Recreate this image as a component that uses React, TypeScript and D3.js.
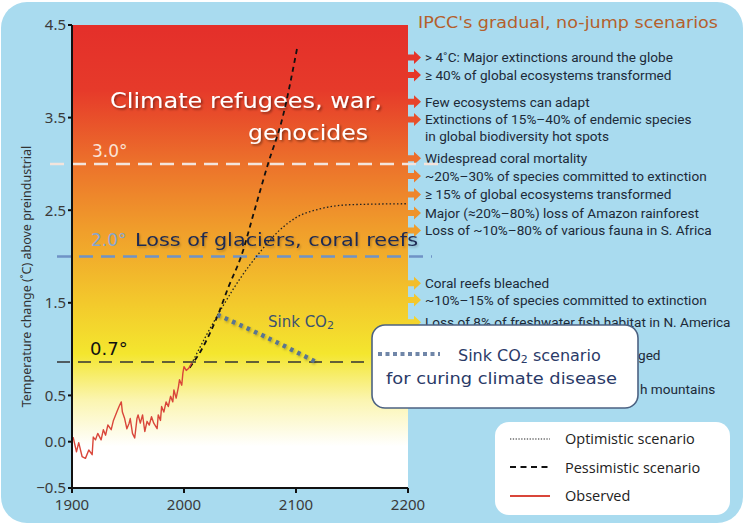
import * as d3 from "d3";

// observed temperature anomaly
const obsYear = [1901, 1904, 1906, 1909, 1912, 1915, 1918, 1919, 1921, 1923, 1926, 1928, 1930, 1932, 1935, 1937, 1940, 1942, 1944, 1945, 1947, 1949, 1951, 1952, 1954, 1956, 1958, 1959, 1961, 1963, 1965, 1967, 1969, 1971, 1973, 1976, 1977, 1979, 1980, 1982, 1984, 1986, 1988, 1990, 1991, 1993, 1995, 1996, 1998, 1999, 2000, 2002, 2004, 2007];
const obsTemp = [0.05, -0.11, -0.01, -0.16, -0.18, -0.09, -0.14, 0.05, 0.02, 0.09, 0.02, 0.13, 0.07, 0.18, 0.13, 0.23, 0.32, 0.38, 0.43, 0.32, 0.25, 0.14, 0.2, 0.25, 0.09, 0.04, 0.25, 0.29, 0.2, 0.29, 0.11, 0.22, 0.18, 0.27, 0.2, 0.14, 0.29, 0.23, 0.38, 0.32, 0.43, 0.38, 0.49, 0.43, 0.56, 0.47, 0.59, 0.67, 0.61, 0.74, 0.81, 0.77, 0.79, 0.85];

const pesYear = [2005, 2015, 2030, 2040, 2051, 2063, 2075, 2088, 2101];
const pesTemp = [0.8, 0.98, 1.36, 1.68, 2.0, 2.5, 3.0, 3.5, 4.25];

const optYear = [2005, 2020, 2035, 2050, 2068, 2085, 2100, 2120, 2150, 2200];
const optTemp = [0.8, 1.15, 1.47, 1.76, 2.05, 2.28, 2.42, 2.51, 2.56, 2.57];

const sinkYear = [2030, 2075, 2118];
const sinkTemp = [1.37, 1.12, 0.86];

const yTicks = [4.5, 3.5, 2.5, 1.5, 0.5, 0.0, -0.5];
const yTickLabels = ["4.5", "3.5", "2.5", "1.5", "0.5", "0.0", "\u22120.5"];
const xTicks = [1900, 2000, 2100, 2200];

const impactTemp = [4.15, 3.96, 3.67, 3.48, 3.06, 2.87, 2.67, 2.47, 2.28, 1.71, 1.53];
const impactText = [
  "> 4\u02DAC: Major extinctions around the globe",
  "\u2265 40% of global ecosystems transformed",
  "Few ecosystems can adapt",
  "Extinctions of 15%\u201340% of endemic species",
  "Widespread coral mortality",
  "~20%\u201330% of species committed to extinction",
  "\u2265 15% of global ecosystems transformed",
  "Major (\u224820%\u201380%) loss of Amazon rainforest",
  "Loss of ~10%\u201380% of various fauna in S. Africa",
  "Coral reefs bleached",
  "~10%\u201315% of species committed to extinction",
];
const extraTemp = [3.3, 1.29];
const extraText = [
  "in global biodiversity hot spots",
  "Loss of 8% of freshwater fish habitat in N. America",
];
// only the ends of these lines show beside the callout box
const tailTemp = [0.93, 0.57];
const tailText = ["ged", "h mountains"];
const hiddenArrowTemp = [1.29, 0.93, 0.57];

const levelTemp = [3.0, 2.0, 0.86];
const levelLabel = ["3.0\u00B0", "2.0\u00B0", "0.7\u00B0"];

const W = 746;
const H = 525;
const comic = "'DejaVu Sans', sans-serif";

export default function App() {
  const x = d3.scaleLinear().domain([1900, 2200]).range([72, 408]);
  const y = d3.scaleLinear().domain([-0.5, 4.5]).range([488, 25]);

  const heat = d3
    .scaleLinear<string>()
    .domain([4.5, 3.8, 3.0, 2.3, 1.5, 0.95, 0.45, -0.05, -0.5])
    .range(["#e42f2a", "#e63a2a", "#ec722b", "#f09d2b", "#f3c92c", "#f4e62e", "#fbf5b0", "#ffffff", "#ffffff"])
    .clamp(true);

  const line = d3
    .line<[number, number]>()
    .x((d) => x(d[0]))
    .y((d) => y(d[1]));
  const smooth = d3
    .line<[number, number]>()
    .x((d) => x(d[0]))
    .y((d) => y(d[1]))
    .curve(d3.curveMonotoneX);

  const obs = line(obsYear.map((v, i) => [v, obsTemp[i]]));
  const pes = smooth(pesYear.map((v, i) => [v, pesTemp[i]]));
  const opt = smooth(optYear.map((v, i) => [v, optTemp[i]]));
  const sink = d3
    .line<[number, number]>()
    .x((d) => x(d[0]))
    .y((d) => y(d[1]))
    .curve(d3.curveCatmullRom)(sinkYear.map((v, i) => [v, sinkTemp[i]]));

  const gradStops = heat.domain().map((t) => ({
    offset: (4.5 - t) / 5,
    color: heat(t),
  }));

  const x0 = x(1900);
  const x1 = x(2200);
  const textX = x1 + 17;

  return (
    <svg
      width={W}
      height={H}
      style={{ position: "absolute", left: 0, top: 0 }}
      fontFamily="'Noto Sans', sans-serif"
    >
      <defs>
        <linearGradient id="heat" x1="0" y1="0" x2="0" y2="1">
          {gradStops.map((s, i) => (
            <stop key={i} offset={s.offset} stopColor={s.color} />
          ))}
        </linearGradient>
        <filter id="shadow" x="-10%" y="-30%" width="120%" height="160%">
          <feDropShadow dx="1.5" dy="1.5" stdDeviation="1" floodColor="#000" floodOpacity="0.45" />
        </filter>
        <filter id="soft" x="-10%" y="-30%" width="120%" height="160%">
          <feDropShadow dx="1" dy="1.5" stdDeviation="0.8" floodColor="#000" floodOpacity="0.25" />
        </filter>
      </defs>

      <rect x={1} y={2} width={W - 4} height={H - 4} rx={26} fill="#a9dbef" />

      {/* plot background */}
      <rect x={x0} y={y(4.5)} width={x1 - x0} height={y(-0.5) - y(4.5)} fill="url(#heat)" />

      {/* impact arrows */}
      {impactTemp.concat(hiddenArrowTemp).map((t, i) => (
        <path
          key={i}
          transform={`translate(${x1},${y(t)})`}
          d="M0,-3 L6,-3 L6,-6.5 L13,0 L6,6.5 L6,3 L0,3 Z"
          fill={heat(t)}
        />
      ))}

      {/* impact texts */}
      <g fontFamily="Roboto, sans-serif" fontSize={13.6} fill="#1d2a38">
        {impactText.map((s, i) => (
          <text key={i} x={textX} y={y(impactTemp[i])} dy="0.36em">
            {s}
          </text>
        ))}
        {extraText.map((s, i) => (
          <text key={i} x={textX} y={y(extraTemp[i])} dy="0.36em">
            {s}
          </text>
        ))}
        {tailText.map((s, i) => (
          <text key={i} x={i === 0 ? 638 : 640} y={y(tailTemp[i])} dy="0.36em">
            {s}
          </text>
        ))}
      </g>

      <text x={418} y={28} fontFamily={comic} fontSize={16} fill="#b4602c" textLength={300} lengthAdjust="spacingAndGlyphs">
        IPCC's gradual, no-jump scenarios
      </text>

      {/* threshold lines */}
      <line x1={50} x2={440} y1={y(levelTemp[0])} y2={y(levelTemp[0])} stroke="#f3e4dc" strokeWidth={2.5} strokeDasharray="14 8" />
      <line x1={57} x2={432} y1={y(levelTemp[1])} y2={y(levelTemp[1])} stroke="#6f93c6" strokeWidth={2.5} strokeDasharray="14 8" />
      <line x1={57} x2={380} y1={y(levelTemp[2])} y2={y(levelTemp[2])} stroke="#333" strokeWidth={1.6} strokeDasharray="13 8" />

      <text x={92} y={y(levelTemp[0]) - 7} fontFamily={comic} fontSize={17} fill="#fbe3d6">
        {levelLabel[0]}
      </text>
      <text x={91} y={y(levelTemp[1]) - 11} fontFamily={comic} fontSize={17} fill="#86a6d0">
        {levelLabel[1]}
      </text>
      <text
        x={135}
        y={y(levelTemp[1]) - 11}
        fontFamily={comic}
        fontSize={17}
        fill="#1d2952"
        textLength={283}
        lengthAdjust="spacingAndGlyphs"
        filter="url(#soft)"
      >
        Loss of glaciers, coral reefs
      </text>
      <text x={90} y={y(levelTemp[2]) - 7} fontFamily={comic} fontSize={18} fill="#111">
        {levelLabel[2]}
      </text>

      <g filter="url(#shadow)" fontFamily={comic} fontSize={21} fill="#ffffff">
        <text x={110} y={108} textLength={272} lengthAdjust="spacingAndGlyphs">
          Climate refugees, war,
        </text>
        <text x={248} y={140} textLength={120} lengthAdjust="spacingAndGlyphs">
          genocides
        </text>
      </g>

      {/* scenario lines */}
      <path d={opt ?? ""} fill="none" stroke="#222" strokeWidth={1.3} strokeDasharray="1.5 2.2" />
      <path d={pes ?? ""} fill="none" stroke="#111" strokeWidth={1.8} strokeDasharray="5 4" />
      <path d={obs ?? ""} fill="none" stroke="#d9463a" strokeWidth={1.4} strokeLinejoin="round" />
      <path d={sink ?? ""} fill="none" stroke="#5a7490" strokeWidth={4.5} strokeDasharray="3.5 4.5" filter="url(#soft)" />

      <text x={268} y={327} fontFamily={comic} fontSize={15} fill="#3b5170">
        Sink CO<tspan fontSize={11} dy={2}>2</tspan>
      </text>

      {/* axes */}
      <line x1={x0} x2={x0} y1={y(4.5)} y2={y(-0.5)} stroke="#111" strokeWidth={2} />
      <line x1={x0} x2={x1} y1={y(-0.5)} y2={y(-0.5)} stroke="#111" strokeWidth={2} />
      {yTicks.map((t, i) => (
        <g key={i}>
          <line x1={x0 - 4} x2={x0} y1={y(t)} y2={y(t)} stroke="#111" strokeWidth={2} />
          <text x={x0 - 6} y={y(t)} dy="0.36em" textAnchor="end" fontSize={15} fill="#3a3a3a">
            {yTickLabels[i]}
          </text>
        </g>
      ))}
      {xTicks.map((t) => (
        <g key={t}>
          <line x1={x(t)} x2={x(t)} y1={y(-0.5)} y2={y(-0.5) + 5} stroke="#111" strokeWidth={2} />
          <text x={x(t)} y={510} textAnchor="middle" fontSize={15} fill="#3a3a3a">
            {t}
          </text>
        </g>
      ))}
      <text
        transform={`translate(31,${(y(4.5) + y(-0.5)) / 2 + 20}) rotate(-90)`}
        textAnchor="middle"
        fontSize={12.5}
        fill="#333"
      >
        Temperature change (˚C) above preindustrial
      </text>

      {/* callout */}
      <rect x={372} y={325} width={266} height={83} rx={13} fill="#ffffff" stroke="#4c6282" strokeWidth={1.6} />
      <line x1={378} x2={440} y1={354} y2={354} stroke="#7086a8" strokeWidth={4} strokeDasharray="4 3.5" />
      <text x={458} y={361} fontFamily={comic} fontSize={16} fill="#2a3a68">
        Sink CO<tspan fontSize={11} dy={2}>2</tspan>
        <tspan dy={-2}> scenario</tspan>
      </text>
      <text x={386} y={384} fontFamily={comic} fontSize={16} fill="#2a3a68" textLength={231} lengthAdjust="spacingAndGlyphs">
        for curing climate disease
      </text>

      {/* legend */}
      <rect x={495} y={422} width={235} height={93} rx={14} fill="#ffffff" />
      <line x1={510} x2={550} y1={439} y2={439} stroke="#222" strokeWidth={1.2} strokeDasharray="1.3 1.5" />
      <line x1={510} x2={550} y1={467} y2={467} stroke="#111" strokeWidth={1.8} strokeDasharray="6 4.5" />
      <line x1={510} x2={550} y1={496} y2={496} stroke="#d9463a" strokeWidth={1.8} />
      <g fontFamily="'Open Sans', sans-serif" fontSize={14.5} fill="#222">
        <text x={565} y={444}>Optimistic scenario</text>
        <text x={565} y={473}>Pessimistic scenario</text>
        <text x={565} y={501}>Observed</text>
      </g>
    </svg>
  );
}
